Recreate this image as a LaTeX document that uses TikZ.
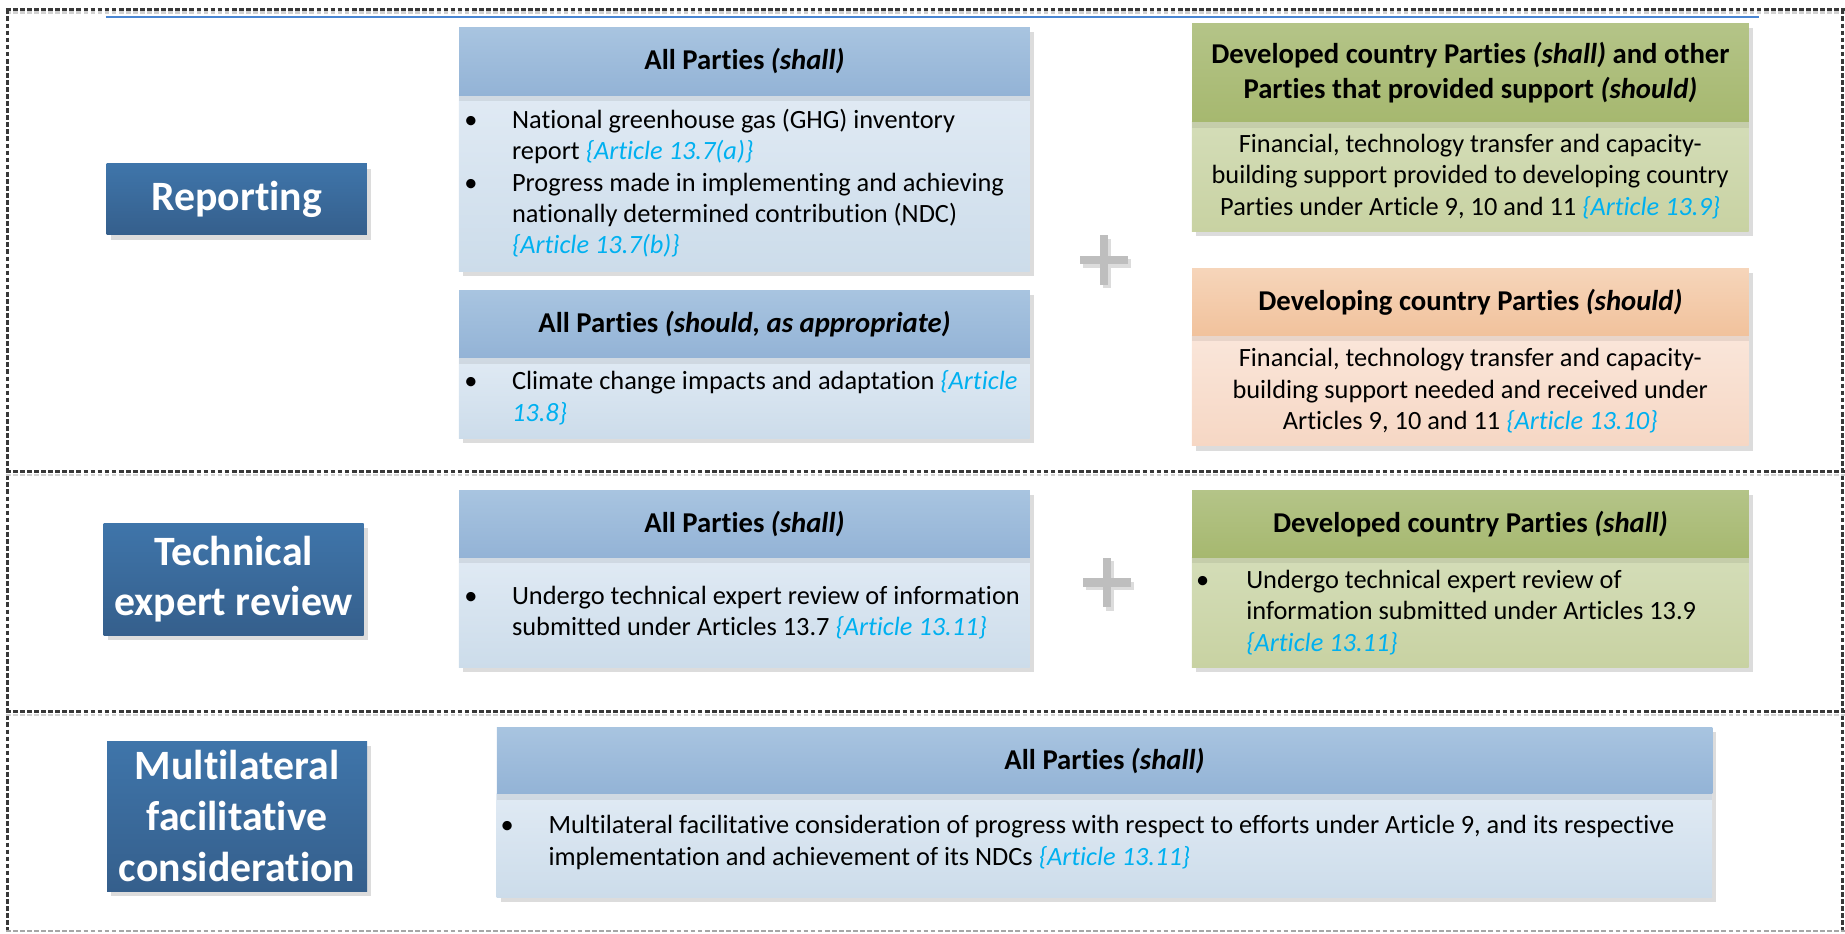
\documentclass[tikz,border=0pt]{standalone}
\usepackage{fontspec}
\setmainfont{Carlito}[Ligatures=NoCommon]
\definecolor{lblTop}{HTML}{3F75AA}
\definecolor{lblBot}{HTML}{355F8C}
\definecolor{bhTop}{HTML}{A8C4E0}
\definecolor{bhBot}{HTML}{93B3D6}
\definecolor{bbTop}{HTML}{E0EAF4}
\definecolor{bbBot}{HTML}{CCDCEA}
\definecolor{ghTop}{HTML}{B4C488}
\definecolor{ghBot}{HTML}{A6B86F}
\definecolor{gbTop}{HTML}{D4DDB8}
\definecolor{gbBot}{HTML}{C8D2A2}
\definecolor{ohTop}{HTML}{F6D5BA}
\definecolor{ohBot}{HTML}{F1C29C}
\definecolor{obTop}{HTML}{FAE6DA}
\definecolor{obBot}{HTML}{F6D7C4}
\definecolor{artcol}{HTML}{00B0F0}
\definecolor{shadowcol}{HTML}{DCDCDC}
\definecolor{bordercol}{HTML}{383838}
\definecolor{bluerule}{HTML}{4A86D2}
\definecolor{pluscol}{HTML}{BEBEBE}
\newcommand{\artc}[1]{{\itshape\color{artcol}#1}}
\newcommand{\art}[1]{{\itshape\color{artcol}\{#1\}}}
\newcommand{\bulitem}{\llap{\textbullet\hspace{29.5pt}}}
\newcommand{\bulitemF}{\llap{\textbullet\hspace{31.5pt}}}
\newcommand{\cardbox}[8]{%
  \fill[shad] ({#2+3.5},{#3+4}) rectangle ({#5+3.5},{#6+4});
  \shade[top color=#7bTop,bottom color=#7bBot] (#2,#4) rectangle (#5,#6);
  \fill[black,opacity=0.07] (#2,#4) rectangle (#5,{#4+5});
  \node[hdr,top color=#7hTop,bottom color=#7hBot,minimum width={#5-#2},minimum height={#4-#3}] (#1) at (#2,#3) {#8};
}
\newcommand{\plussign}[2]{%
  \fill[shadowcol] ({#1-20.5+2.5},{#2-3.5+3}) rectangle ({#1+20.5+2.5},{#2+3.5+3});
  \fill[shadowcol] ({#1-3.5+2.5},{#2-21+3}) rectangle ({#1+3.5+2.5},{#2+21+3});
  \fill[pluscol] ({#1-20.5},{#2-3.5}) rectangle ({#1+20.5},{#2+3.5});
  \fill[pluscol] ({#1-3.5},{#2-21}) rectangle ({#1+3.5},{#2+21});
}
\begin{document}
\begin{tikzpicture}[x=1pt,y=-1pt,
  lbl/.style={top color=lblTop,bottom color=lblBot,text=white,font=\fontsize{35.5}{43}\selectfont\bfseries,align=center,inner sep=0pt},
  hdr/.style={anchor=north west,inner sep=0pt,font=\fontsize{24.4}{30.4}\selectfont\bfseries,align=center,text=black},
  bodytxt/.style={inner sep=0pt,font=\fontsize{22.4}{26.7}\selectfont,text=black},
  shad/.style={fill=shadowcol},
  dashborder/.style={draw=bordercol,line width=2.4pt,dash pattern=on 4pt off 2pt},
  dashshadow/.style={draw=black!18,line width=2pt,dash pattern=on 4pt off 2pt}]
\useasboundingbox (0,0) rectangle (1568,793);
% borders
\draw[dashshadow] (5,10.5) -- (1568,10.5);
\draw[dashborder] (5,8) -- (1568,8);
\draw[dashborder] (6.5,8) -- (6.5,793);
\draw[dashborder] (1566,8) -- (1566,793);
\draw[dashshadow] (5,403.5) -- (1568,403.5);
\draw[dashborder] (5,401) -- (1568,401);
\draw[dashshadow] (5,607.5) -- (1568,607.5);
\draw[dashborder] (5,605) -- (1568,605);
\draw[draw=black!35,line width=1.5pt,dash pattern=on 4pt off 2pt] (5,791.5) -- (1568,791.5);
\draw[bluerule,line width=2pt] (90,14.7) -- (1495,14.7);
% labels
\fill[shad] (94.2,143.4) rectangle (315.1,203.7);
\node[lbl,minimum width=221,minimum height=60.3] (rep) at (201.2,169.5) {Reporting};
\fill[shad] (91.5,448.5) rectangle (312.5,543.7);
\node[lbl,minimum width=221,minimum height=95.2] (ter) at (198.5,492.1) {Technical\\expert review};
\fill[shad] (94.5,633.7) rectangle (315.5,761.2);
\node[lbl,minimum width=221,minimum height=127.5] (mfc) at (201.5,693.5) {Multilateral\\facilitative\\consideration};
% cards
\cardbox{ah}{390}{23.2}{80.7}{875}{230.9}{b}{All Parties \textit{(shall)}}
\cardbox{bh}{390}{246.5}{304}{875}{372.5}{b}{All Parties \textit{(should, as appropriate)}}
\cardbox{ch}{1013}{19.8}{103.4}{1486}{196.9}{g}{Developed country Parties \textit{(shall)} and other\\Parties that provided support \textit{(should)}}
\cardbox{dh}{1013}{228}{284.7}{1486}{379}{o}{Developing country Parties \textit{(should)}}
\cardbox{eh}{390}{416.4}{473.7}{875}{567.4}{b}{All Parties \textit{(shall)}}
\cardbox{fh}{1013}{416.4}{473.7}{1486}{567.4}{g}{Developed country Parties \textit{(shall)}}
\cardbox{gh}{422}{617.8}{674.5}{1455}{762.9}{b}{All Parties \textit{(shall)}}
% body texts
\node[bodytxt,anchor=west,align=left] (at) at (435,155.8) {\bulitem National greenhouse gas (GHG) inventory\\report \art{Article 13.7(a)}\\\bulitem Progress made in implementing and achieving\\nationally determined contribution (NDC)\\\art{Article 13.7(b)}};
\node[bodytxt,anchor=west,align=left] (bt) at (435,338.2) {\bulitem Climate change impacts and adaptation \artc{\{Article}\\\artc{13.8\}}};
\node[bodytxt,align=center] (ct) at (1249.5,150) {Financial, technology transfer and capacity-\\building support provided to developing country\\Parties under Article 9, 10 and 11 \art{Article 13.9}};
\node[bodytxt,align=center] (dt) at (1249.5,332) {Financial, technology transfer and capacity-\\building support needed and received under\\Articles 9, 10 and 11 \art{Article 13.10}};
\node[bodytxt,anchor=west,align=left] (et) at (435,520.6) {\bulitem Undergo technical expert review of information\\submitted under Articles 13.7 \art{Article 13.11}};
\node[bodytxt,anchor=west,align=left] (ft) at (1059,520.6) {\bulitemF Undergo technical expert review of\\information submitted under Articles 13.9\\\art{Article 13.11}};
\node[bodytxt,anchor=west,align=left] (gt) at (466,716) {\bulitem Multilateral facilitative consideration of progress with respect to efforts under Article 9, and its respective\\implementation and achievement of its NDCs \art{Article 13.11}};
% plus signs
\plussign{938}{221}
\plussign{941}{495}
\end{tikzpicture}
\end{document}
